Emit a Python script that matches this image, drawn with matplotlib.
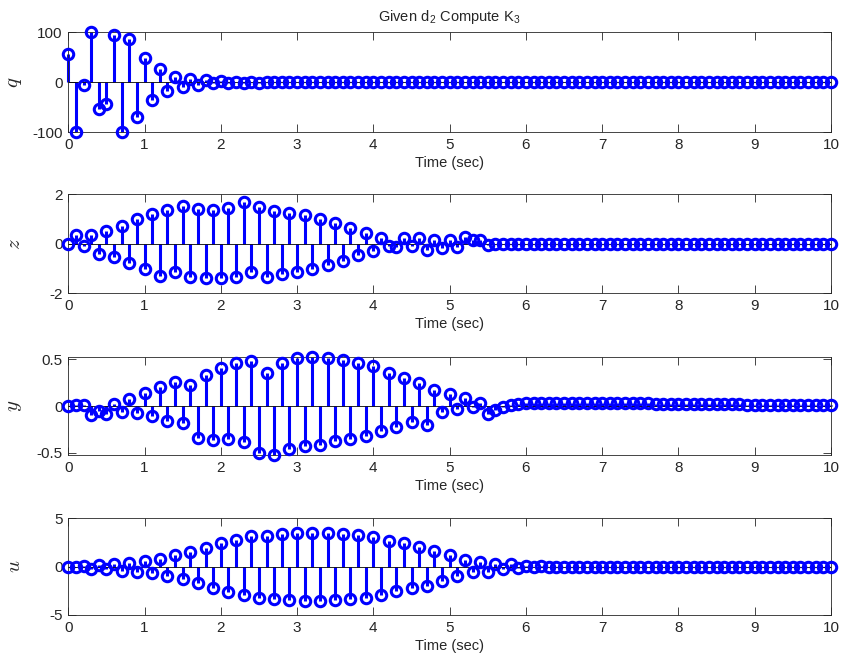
import matplotlib
matplotlib.use("Agg")
import matplotlib.pyplot as plt
import numpy as np

plt.rcParams['font.family'] = ['Liberation Sans', 'DejaVu Sans']
plt.rcParams['mathtext.fontset'] = 'cm'

# sample times, 0 to 10 s in 0.1 s steps
t = np.round(np.arange(101) * 0.1, 1)

q = [57, -100, -5, 100, -54, -43, 95, -100, 86, -69,
     49, -36, 26, -17, 11, -9, 6, -6, 5, -2,
     2, -1, 1, -1, 0.5, -0.5, 0.3, -0.3, 0.2, -0.2,
     0, 0, 0, 0, 0, 0, 0, 0, 0, 0,
     0, 0, 0, 0, 0, 0, 0, 0, 0, 0,
     0, 0, 0, 0, 0, 0, 0, 0, 0, 0,
     0, 0, 0, 0, 0, 0, 0, 0, 0, 0,
     0, 0, 0, 0, 0, 0, 0, 0, 0, 0,
     0, 0, 0, 0, 0, 0, 0, 0, 0, 0,
     0, 0, 0, 0, 0, 0, 0, 0, 0, 0,
     0]

z = [0.0, 0.34, -0.08, 0.34, -0.40, 0.53, -0.55, 0.72, -0.77, 0.99,
     -1.01, 1.22, -1.28, 1.38, -1.15, 1.54, -1.35, 1.42, -1.39, 1.38,
     -1.39, 1.45, -1.34, 1.69, -1.15, 1.50, -1.34, 1.34, -1.23, 1.26,
     -1.14, 1.15, -1.01, 1.01, -0.85, 0.84, -0.69, 0.66, -0.45, 0.43,
     -0.28, 0.23, -0.08, -0.11, 0.23, -0.07, 0.23, -0.24, 0.14, -0.15,
     0.14, -0.14, 0.27, 0.14, 0.14, -0.04, 0, 0, 0, 0,
     0, 0, 0, 0, 0, 0, 0, 0, 0, 0,
     0, 0, 0, 0, 0, 0, 0, 0, 0, 0,
     0, 0, 0, 0, 0, 0, 0, 0, 0, 0,
     0, 0, 0, 0, 0, 0, 0, 0, 0, 0,
     0]

y = [0.0, 0.01, 0.01, -0.10, -0.05, -0.08, 0.02, -0.06, 0.08, -0.07,
     0.14, -0.11, 0.20, -0.16, 0.26, -0.18, 0.23, -0.34, 0.33, -0.36,
     0.41, -0.35, 0.46, -0.39, 0.48, -0.50, 0.35, -0.52, 0.46, -0.46,
     0.52, -0.43, 0.53, -0.42, 0.52, -0.38, 0.49, -0.35, 0.46, -0.32,
     0.43, -0.27, 0.36, -0.23, 0.30, -0.17, 0.25, -0.20, 0.17, -0.06,
     0.13, -0.03, 0.09, -0.01, 0.03, -0.08, -0.04, -0.01, 0.01, 0.02,
     0.035, 0.035, 0.037, 0.038, 0.038, 0.038, 0.037, 0.037, 0.036, 0.035,
     0.034, 0.033, 0.032, 0.031, 0.030, 0.029, 0.028, 0.027, 0.026, 0.025,
     0.024, 0.023, 0.022, 0.021, 0.020, 0.019, 0.018, 0.018, 0.017, 0.016,
     0.015, 0.015, 0.014, 0.013, 0.013, 0.012, 0.011, 0.011, 0.010, 0.010,
     0.009]

u = [0.0, 0.0, 0.1, -0.3, 0.17, -0.25, 0.28, -0.42, 0.35, -0.52,
     0.52, -0.66, 0.77, -1.01, 1.22, -1.29, 1.47, -1.75, 1.96, -2.24,
     2.38, -2.59, 2.76, -2.97, 3.15, -3.22, 3.18, -3.32, 3.34, -3.50,
     3.50, -3.57, 3.50, -3.57, 3.50, -3.46, 3.36, -3.39, 3.25, -3.22,
     3.08, -2.97, 2.66, -2.52, 2.38, -2.24, 2.03, -1.99, 1.61, -1.47,
     1.22, -1.01, 0.70, -0.59, 0.45, -0.52, 0.28, -0.24, 0.21, -0.17,
     0.10, -0.05, 0.03, -0.02, 0, 0, 0, 0, 0, 0,
     0, 0, 0, 0, 0, 0, 0, 0, 0, 0,
     0, 0, 0, 0, 0, 0, 0, 0, 0, 0,
     0, 0, 0, 0, 0, 0, 0, 0, 0, 0,
     0]

names = ['q', 'z', 'y', 'u']
series = [q, z, y, u]
ylims = [(-100, 100), (-2, 2), (-0.525, 0.53), (-5, 5)]
yticks = [[-100, 0, 100], [-2, 0, 2], [-0.5, 0, 0.5], [-5, 0, 5]]
yticklabels = [['-100', '0', '100'], ['-2', '0', '2'], ['-0.5', '0', '0.5'], ['-5', '0', '5']]

# axes boxes in figure fractions: [left, bottom, width, height]
boxes = [[0.0809, 0.8007, 0.9037, 0.1507],
         [0.0809, 0.5583, 0.9037, 0.1488],
         [0.0809, 0.3148, 0.9037, 0.1480],
         [0.0809, 0.0738, 0.9037, 0.1460]]

blue = (0, 0, 1)
grey = (0.15, 0.15, 0.15)

fig = plt.figure(figsize=(8.44, 6.64), dpi=100)

for i in range(4):
    ax = fig.add_axes(boxes[i])
    markers, stems, base = ax.stem(t, series[i], linefmt='-', markerfmt='o', basefmt='-')
    stems.set_color(blue)
    stems.set_linewidth(2.2)
    stems.set_clip_on(False)
    markers.set_markerfacecolor('none')
    markers.set_markeredgecolor(blue)
    markers.set_markeredgewidth(2.2)
    markers.set_markersize(7.5)
    markers.set_clip_on(False)
    markers.set_zorder(3)
    base.set_color('black')
    base.set_linewidth(0.6)

    ax.set_xlim(0, 10)
    ax.set_ylim(*ylims[i])
    ax.set_xticks(range(11))
    ax.set_yticks(yticks[i])
    ax.set_yticklabels(yticklabels[i])
    ax.tick_params(direction='in', length=5.5, width=0.6, top=True, right=True,
                   labelsize=11, colors=grey, pad=4)
    for s in ax.spines.values():
        s.set_color(grey)
        s.set_linewidth(0.6)
    ax.set_xlabel('Time (sec)', fontsize=10.5, color=grey, labelpad=3)
    ax.set_ylabel('$' + names[i] + '$', fontsize=15, color=grey)
    ax.yaxis.set_label_coords(-0.058, 0.5)

    if i == 0:
        ax.set_title(r'Given d$_\mathregular{2}$ Compute K$_\mathregular{3}$',
                     fontsize=10.5, color=grey, pad=8)

fig.savefig('out.png', dpi=100)
